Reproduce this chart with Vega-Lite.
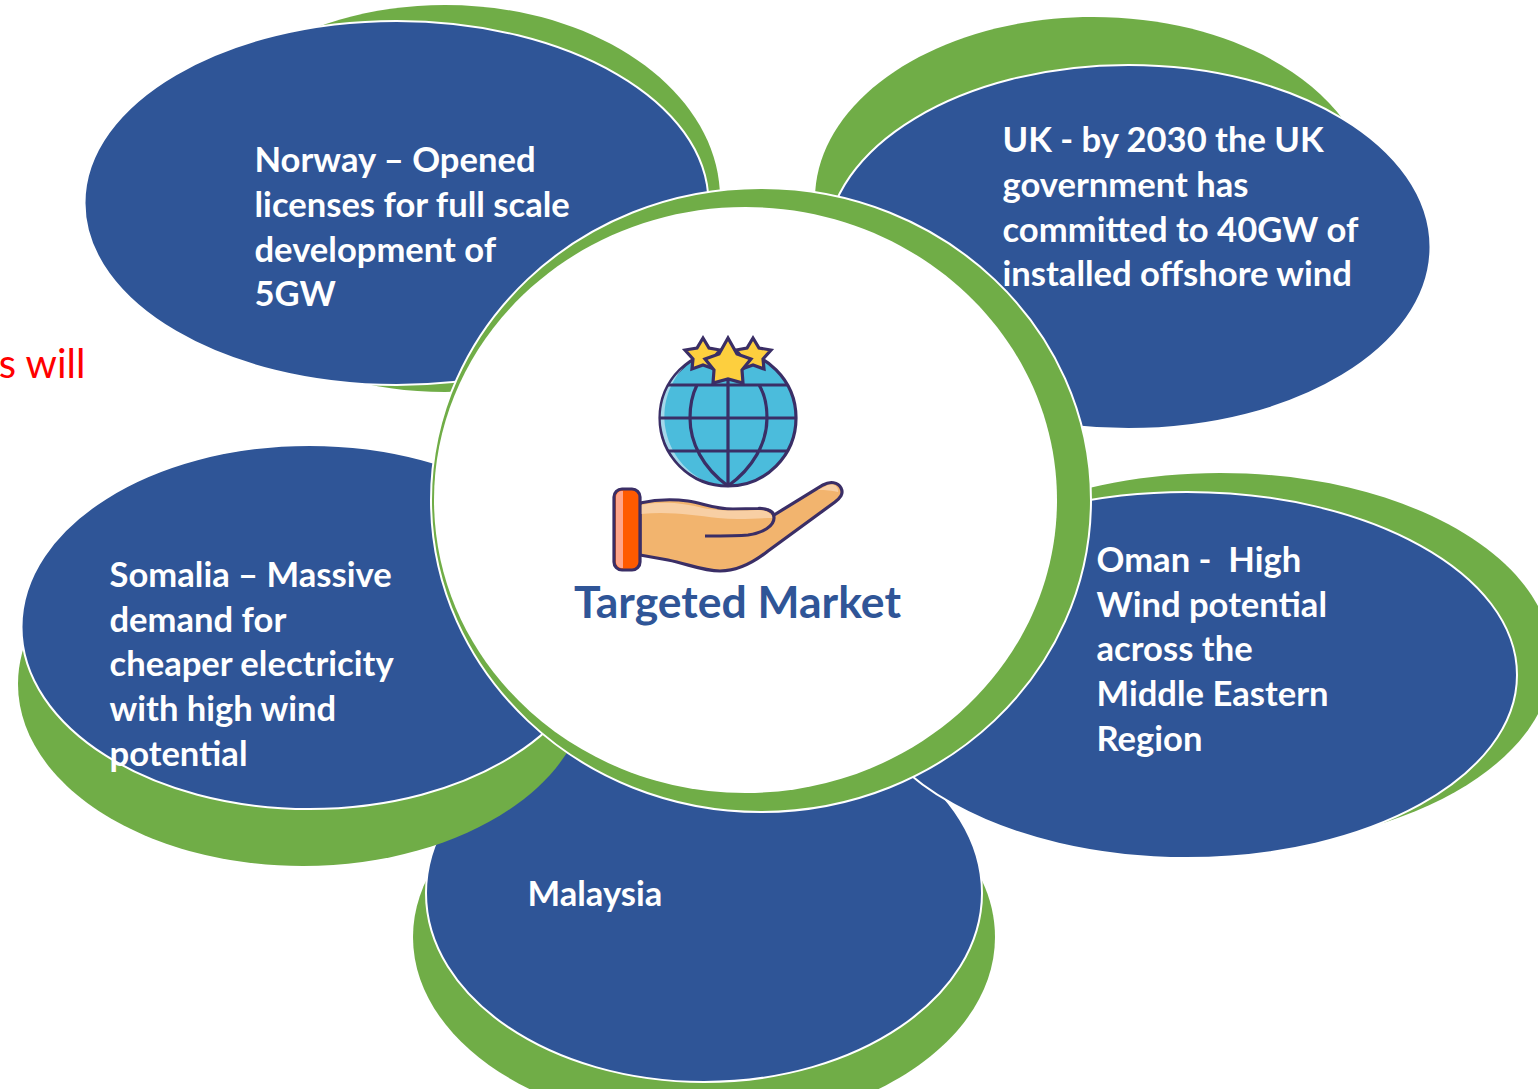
{"$schema":"https://vega.github.io/schema/vega-lite/v6.json","width":1538,"height":1089,"padding":0,"autosize":"none","background":"white","view":{"stroke":null},
"layer":[
{"data":{"values":[
{"part":"Malaysia backing","x":704,"y":937},{"part":"Malaysia","x":704,"y":893},
{"part":"Oman backing","x":1220,"y":660},{"part":"Oman","x":1187,"y":675},
{"part":"Somalia backing","x":303,"y":684},{"part":"Somalia","x":309.5,"y":627},
{"part":"Norway backing","x":445,"y":198.5},{"part":"Norway","x":396.5,"y":203},
{"part":"UK backing","x":1093,"y":199},{"part":"UK","x":1128.5,"y":247},
{"part":"Hub rim","x":761,"y":500},{"part":"Hub","x":745.5,"y":500}]},
"mark":{"type":"point","filled":true,"opacity":1,"strokeWidth":2},
"encoding":{"x":{"field":"x","type":"quantitative","scale":{"domain":[0,1538],"nice":false,"zero":false},"axis":null},
"y":{"field":"y","type":"quantitative","scale":{"domain":[0,1089],"reverse":true,"nice":false,"zero":false},"axis":null},
"size":{"value":4},
"shape":{"field":"part","type":"nominal","legend":null,"scale":{"domain":["Malaysia backing","Malaysia","Oman backing","Oman","Somalia backing","Somalia","Norway backing","Norway","UK backing","UK","Hub rim","Hub"],"range":[
"M -291 0 A 291 190 0 1 1 291 0 A 291 190 0 1 1 -291 0 Z","M -278 0 A 278 189 0 1 1 278 0 A 278 189 0 1 1 -278 0 Z",
"M -332 0 A 332 187 0 1 1 332 0 A 332 187 0 1 1 -332 0 Z","M -330 0 A 330 183 0 1 1 330 0 A 330 183 0 1 1 -330 0 Z",
"M -285 0 A 285 182 0 1 1 285 0 A 285 182 0 1 1 -285 0 Z","M -288 0 A 288 182 0 1 1 288 0 A 288 182 0 1 1 -288 0 Z",
"M -275 0 A 275 193.5 0 1 1 275 0 A 275 193.5 0 1 1 -275 0 Z","M -312 0 A 312 182 0 1 1 312 0 A 312 182 0 1 1 -312 0 Z",
"M -278 0 A 278 182 0 1 1 278 0 A 278 182 0 1 1 -278 0 Z","M -302 0 A 302 182 0 1 1 302 0 A 302 182 0 1 1 -302 0 Z",
"M -330 0 A 330 312 0 1 1 330 0 A 330 312 0 1 1 -330 0 Z","M -311.5 0 A 311.5 293 0 1 1 311.5 0 A 311.5 293 0 1 1 -311.5 0 Z"]}},
"fill":{"field":"part","type":"nominal","legend":null,"scale":{"domain":["Malaysia backing","Malaysia","Oman backing","Oman","Somalia backing","Somalia","Norway backing","Norway","UK backing","UK","Hub rim","Hub"],"range":["#70ad47","#2f5597","#70ad47","#2f5597","#70ad47","#2f5597","#70ad47","#2f5597","#70ad47","#2f5597","#70ad47","#ffffff"]}},
"stroke":{"field":"part","type":"nominal","legend":null,"scale":{"domain":["Malaysia backing","Malaysia","Oman backing","Oman","Somalia backing","Somalia","Norway backing","Norway","UK backing","UK","Hub rim","Hub"],"range":["transparent","#ffffff","transparent","#ffffff","transparent","#ffffff","transparent","#ffffff","transparent","#ffffff","#ffffff","transparent"]}}}},
{"data":{"values":[
{"part":"globe","x":728,"y":418},{"part":"shine","x":728,"y":418},{"part":"grid","x":728,"y":418},
{"part":"star left","x":728,"y":418},{"part":"star right","x":728,"y":418},{"part":"star centre","x":728,"y":418},
{"part":"hand","x":728,"y":418},{"part":"palm light","x":728,"y":418},{"part":"crease","x":728,"y":418},
{"part":"cuff","x":728,"y":418},{"part":"cuff light","x":728,"y":418}]},
"mark":{"type":"point","filled":true,"opacity":1,"strokeWidth":3.2},
"encoding":{"x":{"field":"x","type":"quantitative","scale":{"domain":[0,1538],"nice":false,"zero":false},"axis":null},
"y":{"field":"y","type":"quantitative","scale":{"domain":[0,1089],"reverse":true,"nice":false,"zero":false},"axis":null},
"size":{"value":4},
"shape":{"field":"part","type":"nominal","legend":null,"scale":{"domain":["globe","shine","grid","star left","star right","star centre","hand","palm light","crease","cuff","cuff light"],"range":[
"M -68 0 A 68 68 0 1 1 68 0 A 68 68 0 1 1 -68 0 Z",
"M -45 -50 A 67 67 0 0 0 -25 62 A 72 72 0 0 1 -45 -50 Z",
"M -60 -33 L 60 -33 M -68 0 L 68 0 M -60 33 L 60 33 M 0 -40 L 0 68 M 0 68 C -25 50 -38 25 -38 0 C -38 -15 -35 -25 -31 -33 M 0 68 C 25 50 39 25 39 0 C 39 -15 36 -25 31 -33",
"M -25 -80 L -19 -70 L -8 -68 L -15 -59 L -14 -49 L -25 -53 L -36 -49 L -35 -59 L -43 -68 L -31 -70 Z",
"M 25 -80 L 31 -70 L 43 -68 L 35 -59 L 36 -49 L 25 -53 L 14 -49 L 15 -59 L 8 -68 L 19 -70 Z",
"M 0 -80 L 9 -64 L 23 -59 L 14 -48 L 15 -35 L 0 -39 L -15 -35 L -14 -48 L -23 -59 L -9 -64 Z",
"M -88 85 C -70 81 -55 81 -40 83 C -25 85 -15 91 5 91 L 30 90.5 C 38 90 44 93 46 97 L 95 67 C 102 63 110 64 113 70 C 116 76 112 80 107 84 L 40 133 C 25 145 8 153 -8 153 C -25 153 -40 146 -60 142 L -88 137 Z",
"M -87 87 C -65 83 -45 85 -25 90 C -10 93 10 93 30 92 C 38 92 43 95 45 100 C 30 100 10 102 -10 100 C -35 97 -60 93 -87 96 Z M 90 72 L 100 67 C 106 65 111 69 110 74 C 100 72 95 72 90 72 Z",
"M -23 118 C -5 118 10 118 20 117 C 35 115 46 108 46 100 C 46 96 44 93 40 92",
"M -106 71 L -96 71 A 8 8 0 0 1 -88 79 L -88 144 A 8 8 0 0 1 -96 152 L -106 152 A 8 8 0 0 1 -114 144 L -114 79 A 8 8 0 0 1 -106 71 Z",
"M -106 73 L -105 73 L -105 150 L -106 150 A 6 6 0 0 1 -112 144 L -112 79 A 6 6 0 0 1 -106 73 Z"]}},
"fill":{"field":"part","type":"nominal","legend":null,"scale":{"domain":["globe","shine","grid","star left","star right","star centre","hand","palm light","crease","cuff","cuff light"],"range":["#4bbcdc","#a4d8ea","transparent","#fdcf3e","#fdcf3e","#fdcf3e","#f2b46e","#f8cfa4","transparent","#ff5a00","#ffa58a"]}},
"stroke":{"field":"part","type":"nominal","legend":null,"scale":{"domain":["globe","shine","grid","star left","star right","star centre","hand","palm light","crease","cuff","cuff light"],"range":["#3a2e66","transparent","#3a2e66","#3a2e66","#3a2e66","#3a2e66","#3a2e66","transparent","#3a2e66","#3a2e66","transparent"]}}}},
{"data":{"values":[
{"line":"Norway – Opened","x":254.5,"y":172},{"line":"licenses for full scale","x":254.5,"y":217},{"line":"development of","x":254.5,"y":262},{"line":"5GW","x":254.5,"y":306},
{"line":"UK - by 2030 the UK","x":1002.5,"y":152},{"line":"government has","x":1002.5,"y":197},{"line":"committed to 40GW of","x":1002.5,"y":242},{"line":"installed offshore wind","x":1002.5,"y":286},
{"line":"Oman - \u00a0High","x":1096.5,"y":572},{"line":"Wind potential","x":1096.5,"y":617},{"line":"across the","x":1096.5,"y":661},{"line":"Middle Eastern","x":1096.5,"y":706},{"line":"Region","x":1096.5,"y":751},
{"line":"Somalia – Massive","x":109.5,"y":587},{"line":"demand for","x":109.5,"y":632},{"line":"cheaper electricity","x":109.5,"y":676},{"line":"with high wind","x":109.5,"y":721},{"line":"potential","x":109.5,"y":766},
{"line":"Malaysia","x":527.5,"y":906}]},
"mark":{"type":"text","align":"left","baseline":"alphabetic","font":"Lato","fontWeight":"bold","fontSize":34.6,"color":"#ffffff"},
"encoding":{"x":{"field":"x","type":"quantitative","scale":{"domain":[0,1538],"nice":false,"zero":false},"axis":null},
"y":{"field":"y","type":"quantitative","scale":{"domain":[0,1089],"reverse":true,"nice":false,"zero":false},"axis":null},
"text":{"field":"line","type":"nominal"}}},
{"data":{"values":[{"line":"Targeted Market","x":574,"y":618}]},
"mark":{"type":"text","align":"left","baseline":"alphabetic","font":"Lato","fontWeight":"bold","fontSize":44.5,"color":"#2f5597"},
"encoding":{"x":{"field":"x","type":"quantitative","scale":{"domain":[0,1538],"nice":false,"zero":false},"axis":null},
"y":{"field":"y","type":"quantitative","scale":{"domain":[0,1089],"reverse":true,"nice":false,"zero":false},"axis":null},
"text":{"field":"line","type":"nominal"}}},
{"data":{"values":[{"line":"s will","x":85.5,"y":378}]},
"mark":{"type":"text","align":"right","baseline":"alphabetic","font":"Lato","fontSize":40,"color":"#ff0000"},
"encoding":{"x":{"field":"x","type":"quantitative","scale":{"domain":[0,1538],"nice":false,"zero":false},"axis":null},
"y":{"field":"y","type":"quantitative","scale":{"domain":[0,1089],"reverse":true,"nice":false,"zero":false},"axis":null},
"text":{"field":"line","type":"nominal"}}}
],
"resolve":{"scale":{"shape":"independent","fill":"independent","stroke":"independent"}}}
